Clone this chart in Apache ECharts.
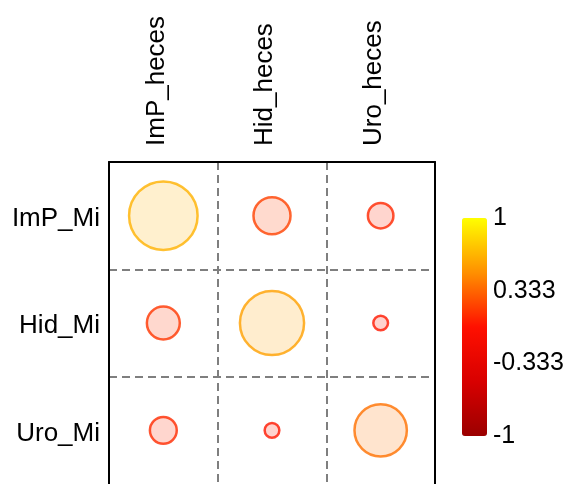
<!DOCTYPE html>
<html>
<head>
<meta charset="utf-8">
<style>
html,body{margin:0;padding:0;background:#fff;}
#chart{width:570px;height:484px;}
</style>
<script src="https://cdn.jsdelivr.net/npm/echarts@6/dist/echarts.min.js"></script>
</head>
<body>
<div id="chart"></div>
<script>
// Data
var colLabels = ['ImP_heces', 'Hid_heces', 'Uro_heces'];
var rowLabels = ['ImP_Mi', 'Hid_Mi', 'Uro_Mi'];
var rowImP = [0.65, 0.19, 0.09];
var rowHid = [0.15, 0.57, 0.03];
var rowUro = [0.10, 0.03, 0.38];
var colorbarTicks = [-1, -0.333, 0.333, 1];
var scaleColors = ['#9B0000', '#D80000', '#FF1000', '#FF9000', '#FFFF00'];

var rows = [rowImP, rowHid, rowUro];

function hexToRgb(h) {
  return [parseInt(h.substr(1,2),16), parseInt(h.substr(3,2),16), parseInt(h.substr(5,2),16)];
}
function colorFor(v) {
  var t = (v + 1) / 2 * (scaleColors.length - 1);
  var i = Math.min(Math.floor(t), scaleColors.length - 2);
  var f = t - i;
  var a = hexToRgb(scaleColors[i]), b = hexToRgb(scaleColors[i+1]);
  return [0,1,2].map(function(k){ return Math.round(a[k] + (b[k]-a[k]) * f); });
}

var points = [];
rows.forEach(function(r, yi){
  r.forEach(function(v, xi){
    var c = colorFor(v);
    points.push({
      value: [xi, yi, v],
      itemStyle: {
        color: 'rgba(' + c.join(',') + ',0.24)',
        borderColor: 'rgb(' + c.join(',') + ')',
        borderWidth: 2.5
      }
    });
  });
});

var FONT = 'Liberation Sans, Arial, Helvetica, sans-serif';
var maxD = 85;
var border = {show: true, lineStyle: {color: '#000', width: 2}};
var dash = {show: true, showMinLine: false, showMaxLine: false, lineStyle: {type: [8, 5], color: '#7f7f7f', width: 2}};

var chart = echarts.init(document.getElementById('chart'), null, {renderer: 'canvas'});
chart.setOption({
  animation: false,
  backgroundColor: '#fff',
  grid: [
    {left: 109, top: 162, width: 326, height: 326, show: false},
    {left: 462, top: 218, width: 25, height: 218, show: false}
  ],
  xAxis: [
    {
      type: 'category', data: colLabels, position: 'top', gridIndex: 0,
      axisLine: border, axisTick: {show: false},
      axisLabel: {rotate: -90, margin: 16, fontSize: 26, color: '#000', fontFamily: FONT,
        verticalAlign: 'bottom', lineHeight: 14},
      splitLine: dash
    },
    {type: 'value', gridIndex: 1, show: false, min: 0, max: 1}
  ],
  yAxis: [
    {
      type: 'category', data: rowLabels, inverse: true, gridIndex: 0, position: 'left',
      axisLine: border, axisTick: {show: false},
      axisLabel: {margin: 9, fontSize: 26, color: '#000', fontFamily: FONT,
        verticalAlign: 'top', lineHeight: 6},
      splitLine: dash
    },
    {
      type: 'value', gridIndex: 1, position: 'right', min: -1, max: 1,
      axisLine: {show: false}, axisTick: {show: false}, splitLine: {show: false},
      axisLabel: {
        customValues: colorbarTicks, margin: 6, fontSize: 25, color: '#000', fontFamily: FONT,
        formatter: function(v){ return String(Math.round(v * 1000) / 1000); }
      }
    },
    {
      type: 'category', data: rowLabels, inverse: true, gridIndex: 0, position: 'right',
      axisLine: border, axisTick: {show: false}, axisLabel: {show: false}, splitLine: {show: false}
    }
  ],
  visualMap: {
    type: 'continuous', min: -1, max: 1, seriesIndex: 1, calculable: false,
    orient: 'vertical', left: 462, top: 218, itemWidth: 25, itemHeight: 218,
    padding: 0, text: null, showLabel: false,
    inRange: {color: scaleColors}
  },
  series: [
    {
      type: 'scatter', xAxisIndex: 0, yAxisIndex: 0,
      data: points,
      symbol: 'circle',
      symbolSize: function(val){ return maxD * Math.sqrt(Math.abs(val[2])); },
      z: 5
    },
    {
      type: 'scatter', xAxisIndex: 1, yAxisIndex: 1, data: [], symbolSize: 0
    }
  ]
});
</script>
</body>
</html>
